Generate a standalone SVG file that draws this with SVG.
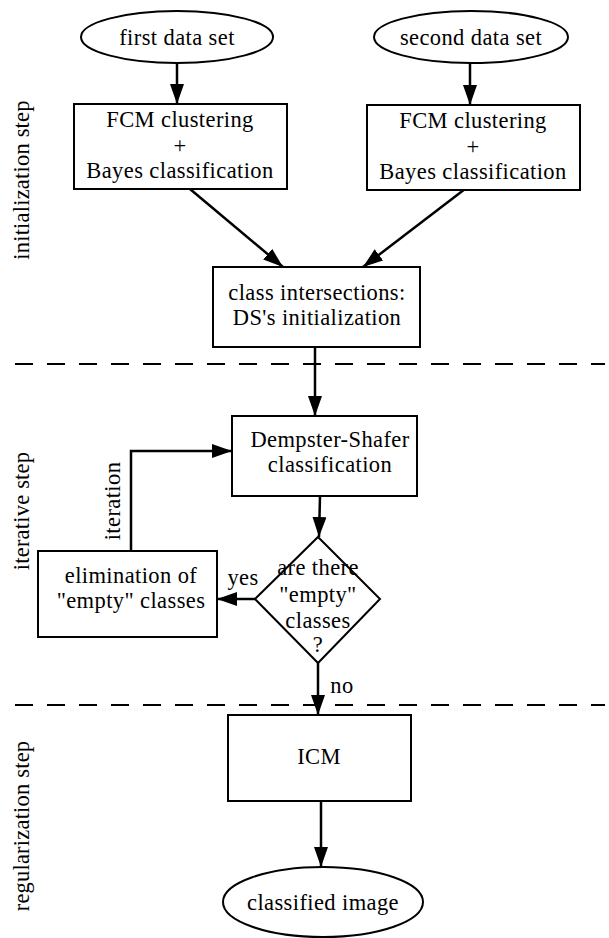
<svg xmlns="http://www.w3.org/2000/svg" width="609" height="938" viewBox="0 0 609 938">
<style>
.box{fill:#fff;stroke:#000;stroke-width:2}
text{font-family:'Liberation Serif','Times New Roman',Times,'DejaVu Serif',serif;font-size:22.5px;fill:#000;text-anchor:middle}
.t{letter-spacing:0.4px}
.lbl{letter-spacing:0.2px}
.edge{fill:none;stroke:#000;stroke-width:2.5}
.dash{fill:none;stroke:#000;stroke-width:2;stroke-dasharray:18 14}
</style>
<defs>
<marker id="ah" markerUnits="userSpaceOnUse" markerWidth="20" markerHeight="14" refX="20" refY="7" orient="auto">
<path d="M0,0 L20,7 L0,14 z" fill="#000"/>
</marker>
</defs>
<rect width="609" height="938" fill="#fff"/>
<g id="separators">
<line class="dash" x1="15" y1="364" x2="605" y2="364"/>
<line class="dash" x1="15" y1="705" x2="605" y2="705"/>
</g>
<g id="step-labels">
<text class="lbl" transform="translate(29,180) rotate(-90)">initialization step</text>
<text class="lbl" transform="translate(29,511) rotate(-90)">iterative step</text>
<text class="lbl" transform="translate(29,826) rotate(-90)">regularization step</text>
</g>
<g id="connectors">
<line class="edge" x1="177" y1="63" x2="177" y2="104" marker-end="url(#ah)"/>
<line class="edge" x1="470" y1="63" x2="470" y2="105" marker-end="url(#ah)"/>
<line class="edge" x1="190" y1="189" x2="283" y2="267" marker-end="url(#ah)"/>
<line class="edge" x1="465" y1="189" x2="363" y2="267" marker-end="url(#ah)"/>
<line class="edge" x1="315" y1="347" x2="315" y2="416" marker-end="url(#ah)"/>
<line class="edge" x1="320" y1="496" x2="319" y2="537" marker-end="url(#ah)"/>
<line class="edge" x1="255" y1="599" x2="217" y2="599" marker-end="url(#ah)"/>
<path class="edge" d="M131,551 V451 H232" marker-end="url(#ah)"/>
<line class="edge" x1="318" y1="663" x2="318" y2="715" marker-end="url(#ah)"/>
<line class="edge" x1="321" y1="801" x2="321" y2="867" marker-end="url(#ah)"/>
<text class="t" x="243" y="585">yes</text>
<text class="t" x="342" y="693">no</text>
<text class="t" transform="translate(120,501) rotate(-90)">iteration</text>
</g>
<g id="first-data-set">
<ellipse class="box" cx="177" cy="37" rx="96" ry="26"/>
<text class="t" x="177" y="45">first data set</text>
</g>
<g id="second-data-set">
<ellipse class="box" cx="471" cy="37" rx="97" ry="26"/>
<text class="t" x="471" y="45">second data set</text>
</g>
<g id="fcm1">
<rect class="box" x="74" y="104" width="213" height="85"/>
<text class="t" x="180" y="127">FCM clustering</text>
<text class="t" x="180" y="153">+</text>
<text class="t" x="180" y="178">Bayes classification</text>
</g>
<g id="fcm2">
<rect class="box" x="367" y="105" width="213" height="85"/>
<text class="t" x="473" y="128">FCM clustering</text>
<text class="t" x="473" y="154">+</text>
<text class="t" x="473" y="179">Bayes classification</text>
</g>
<g id="intersections">
<rect class="box" x="213" y="267" width="207" height="80"/>
<text class="t" x="317" y="300">class intersections:</text>
<text class="t" x="317" y="325">DS's initialization</text>
</g>
<g id="dempster-shafer">
<rect class="box" x="232" y="416" width="185" height="80"/>
<text class="t" x="330" y="447">Dempster-Shafer</text>
<text class="t" x="330" y="472">classification</text>
</g>
<g id="decision">
<polygon class="box" points="318,537 380,599 318,663 255,599"/>
<text class="t" x="318" y="575">are there</text>
<text class="t" x="318" y="602">"empty"</text>
<text class="t" x="318" y="628">classes</text>
<text class="t" x="318" y="652">?</text>
</g>
<g id="elimination">
<rect class="box" x="38" y="551" width="179" height="86"/>
<text class="t" x="131" y="583">elimination of</text>
<text class="t" x="131" y="608">"empty" classes</text>
</g>
<g id="icm">
<rect class="box" x="228" y="715" width="183" height="86"/>
<text class="t" x="319" y="764">ICM</text>
</g>
<g id="classified-image">
<ellipse class="box" cx="323" cy="902" rx="100" ry="35"/>
<text class="t" x="323" y="910">classified image</text>
</g>
</svg>
